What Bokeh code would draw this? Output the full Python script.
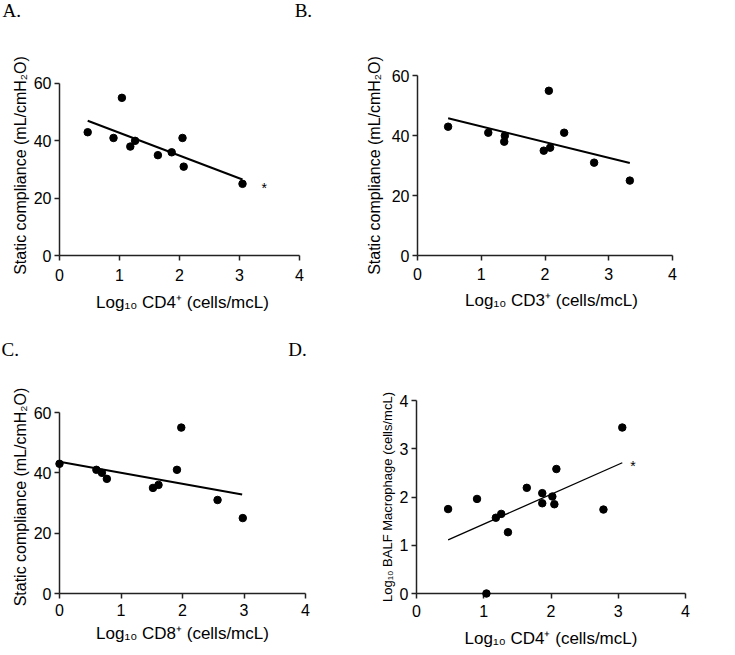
from bokeh.plotting import figure
from bokeh.layouts import column, row
from bokeh.models import Range1d, FixedTicker
from bokeh.core.properties import value
from bokeh.embed import file_html
from bokeh.resources import INLINE

# ---------------- data ----------------
# A: Static compliance vs Log10 CD4+
a_x = [0.47, 0.90, 1.04, 1.18, 1.26, 1.64, 1.87, 2.05, 2.07, 3.05]
a_y = [43, 41, 55, 38, 40, 35, 36, 41, 31, 25]
a_fit_x = [0.47, 3.05]
a_fit_y = [47.0, 26.5]
a_star_x = [3.41]
a_star_y = [23.6]

# B: Static compliance vs Log10 CD3+
b_x = [0.48, 1.11, 1.36, 1.37, 1.98, 2.06, 2.08, 2.30, 2.77, 3.33]
b_y = [43, 41, 38, 40, 35, 55, 36, 41, 31, 25]
b_fit_x = [0.48, 3.33]
b_fit_y = [45.8, 30.9]

# C: Static compliance vs Log10 CD8+
c_x = [0.0, 0.60, 0.69, 0.77, 1.52, 1.61, 1.91, 1.98, 2.57, 2.98]
c_y = [43, 41, 40, 38, 35, 36, 41, 55, 31, 25]
c_fit_x = [0.0, 2.97]
c_fit_y = [43.7, 32.8]

# D: Log10 BALF macrophage vs Log10 CD4+
d_x = [0.47, 0.90, 1.04, 1.18, 1.26, 1.36, 1.64, 1.87, 1.87, 2.02, 2.05, 2.08, 2.78, 3.06]
d_y = [1.75, 1.96, 0.0, 1.57, 1.65, 1.27, 2.19, 2.08, 1.87, 2.01, 1.85, 2.58, 1.74, 3.44]
d_fit_x = [0.47, 3.06]
d_fit_y = [1.11, 2.71]
d_star_x = [3.22]
d_star_y = [2.64]

x_ticks = [0, 1, 2, 3, 4]
comp_ticks = [0, 20, 40, 60]
mac_ticks = [0, 1, 2, 3, 4]

SANS = "Liberation Sans"
SERIF = "Liberation Serif"


def make_panel(w, h, left, right, top, bottom, xr, yr, xs, ys, fx, fy,
               x_top, y_top, yticks, xlabel, ylabel, ylabel_size, line_w,
               x_tick_standoff, x_label_standoff, y_label_standoff):
    p = figure(width=w, height=h, min_border_left=left, min_border_right=right,
               min_border_top=top, min_border_bottom=bottom,
               x_range=Range1d(*xr), y_range=Range1d(*yr),
               output_backend="svg", toolbar_location=None,
               background_fill_color="white", border_fill_color="white")
    p.outline_line_color = None
    p.grid.visible = False
    p.xaxis.ticker = FixedTicker(ticks=x_ticks)
    p.yaxis.ticker = FixedTicker(ticks=yticks)
    p.xaxis.bounds = (0, x_top)
    p.yaxis.bounds = (0, y_top)
    for ax in (p.xaxis[0], p.yaxis[0]):
        ax.axis_line_color = "#222222"
        ax.axis_line_width = 1.5
        ax.major_tick_line_color = "#222222"
        ax.major_tick_line_width = 1.5
        ax.major_tick_out = 5
        ax.major_tick_in = 0
        ax.minor_tick_line_color = None
        ax.major_label_text_font = SANS
        ax.major_label_text_font_size = "16px"
        ax.major_label_text_color = "black"
        ax.axis_label_text_font = SANS
        ax.axis_label_text_font_style = "normal"
        ax.axis_label_text_color = "black"
    p.yaxis.major_label_standoff = 3
    p.xaxis.major_label_standoff = x_tick_standoff
    p.xaxis.axis_label = xlabel
    p.xaxis.axis_label_text_font_size = "17px"
    p.xaxis.axis_label_standoff = x_label_standoff
    p.yaxis.axis_label = ylabel
    p.yaxis.axis_label_text_font_size = ylabel_size
    p.yaxis.axis_label_standoff = y_label_standoff
    p.line(fx, fy, line_color="black", line_width=line_w)
    p.scatter(xs, ys, size=7.5, fill_color="black", line_color="black",
              level="overlay")
    return p


def letters(fig, xs, ys, txts):
    fig.text(xs, ys, text=txts, text_font=value(SERIF),
             text_font_size=value("19px"), text_color="black",
             text_baseline="alphabetic", text_align="left", level="overlay")


def star(fig, xs, ys):
    fig.text(xs, ys, text=["*"] * len(xs), text_font=value(SANS),
             text_font_size=value("14px"), text_align="center",
             text_baseline="middle", text_color="black", level="overlay")


comp_label = "Static compliance (mL/cmH\u2082O)"

# column 1: width 362, frame x 59..305 ; column 2: width 365, frame x 416..685
# row 1: height 338, frame y 75..255 ; row 2: height 312, frame y 400..593
pA = make_panel(362, 338, 59, 57, 75, 83, (0, 4.1), (0, 62.79),
                a_x, a_y, a_fit_x, a_fit_y, 4, 60, comp_ticks,
                "Log\u2081\u2080 CD4\u207a (cells/mcL)", comp_label,
                "16px", 2, 8, 9, 2)
star(pA, a_star_x, a_star_y)
letters(pA, [-0.95, 3.92], [85.45, 85.45], ["A.", "B."])

pB = make_panel(365, 338, 54, 42, 75, 83, (0, 4.203), (0, 60.1),
                b_x, b_y, b_fit_x, b_fit_y, 4, 60, comp_ticks,
                "Log\u2081\u2080 CD3\u207a (cells/mcL)", comp_label,
                "16px", 2, 7, 8, 6)

pC = make_panel(362, 312, 59, 57, 62, 57, (0, 4), (0, 63.98),
                c_x, c_y, c_fit_x, c_fit_y, 4, 60, comp_ticks,
                "Log\u2081\u2080 CD8\u207a (cells/mcL)", comp_label,
                "16px", 2, 5, 5, 2)
letters(pC, [-0.943, 3.72], [80.9, 80.9], ["C.", "D."])

pD = make_panel(365, 312, 54, 42, 62, 57, (0, 4), (0, 4),
                d_x, d_y, d_fit_x, d_fit_y, 4, 4, mac_ticks,
                "Log\u2081\u2080 CD4\u207a (cells/mcL)",
                "Log\u2081\u2080 BALF Macrophage (cells/mcL)", "13px", 1.3, 6, 9, 2)
star(pD, d_star_x, d_star_y)

layout = column(row(pA, pB), row(pC, pD))

with open("out.html", "w") as f:
    f.write(file_html(layout, INLINE))
